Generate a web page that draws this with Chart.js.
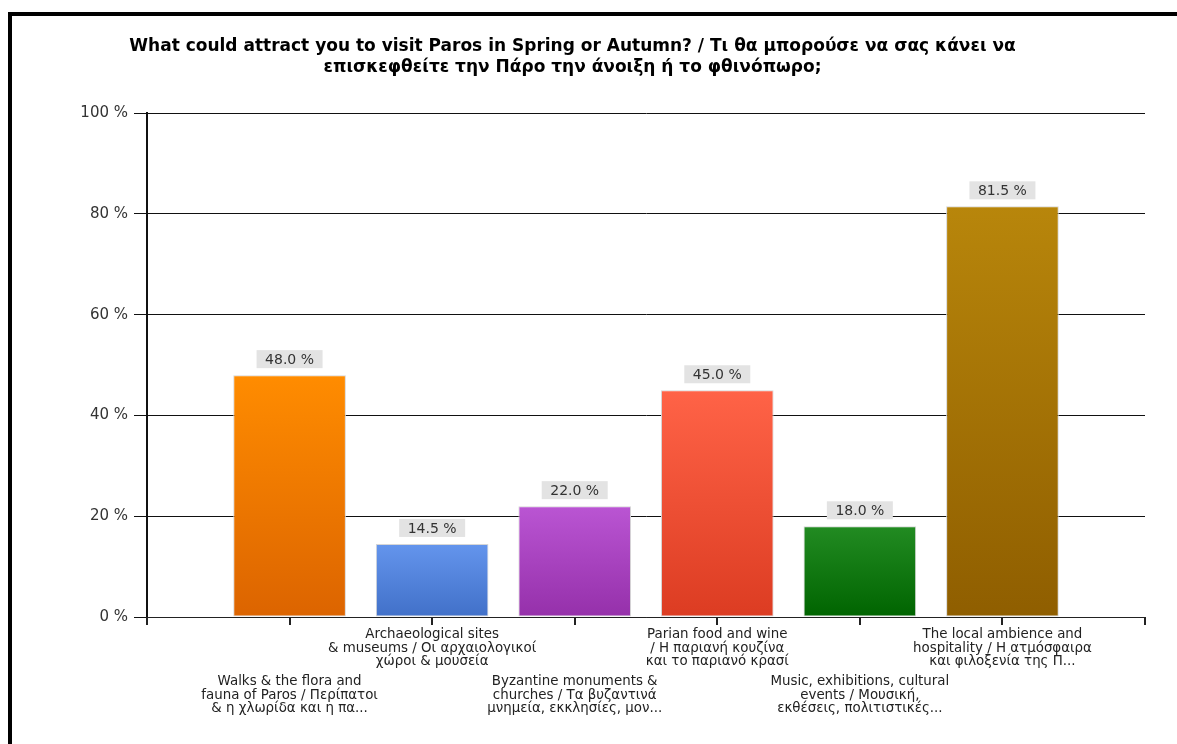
<!DOCTYPE html>
<html>
<head>
<meta charset="utf-8">
<script src="https://cdn.jsdelivr.net/npm/chart.js@4.4.1/dist/chart.umd.min.js"></script>
<style>
    html, body { margin: 0; padding: 0; background: #fff; }
    #wrap { position: relative; width: 1177px; height: 744px; overflow: hidden; }
    #frame {
        position: absolute; left: 8px; top: 12px; right: -10px; bottom: -10px;
        border-left: 4px solid #000; border-top: 4px solid #000;
        pointer-events: none;
    }
</style>
</head>
<body>
<div id="wrap">
    <canvas id="attractChart" width="1177" height="744"></canvas>
    <div id="frame"></div>
</div>
<script>
// Survey answers, one bar per option
const categories = [
    ['Walks & the flora and', 'fauna of Paros / Περίπατοι', '& η χλωρίδα και η πα...'],
    ['Archaeological sites', '& museums / Οι αρχαιολογικοί', 'χώροι & μουσεία'],
    ['Byzantine monuments &', 'churches / Τα βυζαντινά', 'μνημεία, εκκλησίες, μον...'],
    ['Parian food and wine', '/ Η παριανή κουζίνα', 'και το παριανό κρασί'],
    ['Music, exhibitions, cultural', 'events / Μουσική,', 'εκθέσεις, πολιτιστικές...'],
    ['The local ambience and', 'hospitality / Η ατμόσφαιρα', 'και φιλοξενία της Π...']
];
const percentages = [48.0, 14.5, 22.0, 45.0, 18.0, 81.5];
const yTicks = [0, 20, 40, 60, 80, 100];

// top / bottom colour of each bar's gradient
const topColors = ['#ff8c00', '#6495ed', '#ba55d3', '#ff6347', '#228b22', '#b8860b'];
const bottomColors = ['#dc6400', '#4170c8', '#9530aa', '#dc3c22', '#006400', '#8f5e00'];

const titleLines = [
    'What could attract you to visit Paros in Spring or Autumn? / Τι θα μπορούσε να σας κάνει να',
    'επισκεφθείτε την Πάρο την άνοιξη ή το φθινόπωρο;'
];

// empty slot on each side so the axis starts/ends on a tick
const labels = ['', ...categories.map(c => c.join(' ')), ''];
const values = [null, ...percentages, null];

function barGradient(context) {
    const chart = context.chart;
    const i = context.dataIndex - 1;
    if (i < 0 || i >= topColors.length) return 'rgba(0,0,0,0)';
    const area = chart.chartArea;
    if (!area) return topColors[i];
    const yScale = chart.scales.y;
    const top = yScale.getPixelForValue(context.raw);
    const bottom = yScale.getPixelForValue(0);
    const g = chart.ctx.createLinearGradient(0, top, 0, bottom);
    g.addColorStop(0, topColors[i]);
    g.addColorStop(1, bottomColors[i]);
    return g;
}

// grey value boxes above each bar
const valueBoxes = {
    id: 'valueBoxes',
    afterDatasetsDraw(chart) {
        const ctx = chart.ctx;
        const meta = chart.getDatasetMeta(0);
        ctx.save();
        ctx.font = '14px "DejaVu Sans"';
        ctx.textAlign = 'center';
        ctx.textBaseline = 'middle';
        meta.data.forEach((bar, idx) => {
            const v = values[idx];
            if (v === null || v === undefined) return;
            const w = 66, h = 18;
            const bottom = bar.y - 7;
            ctx.fillStyle = '#e3e3e3';
            ctx.fillRect(bar.x - w / 2, bottom - h, w, h);
            ctx.fillStyle = '#333';
            ctx.fillText(v.toFixed(1) + ' %', bar.x, bottom - h / 2 + 1);
        });
        ctx.restore();
    }
};

// x tick marks plus category labels staggered on two rows
const categoryLabels = {
    id: 'categoryLabels',
    afterDraw(chart) {
        const ctx = chart.ctx;
        const xScale = chart.scales.x;
        const base = chart.chartArea.bottom;
        ctx.save();
        ctx.font = '13.4px "DejaVu Sans"';
        ctx.fillStyle = '#222';
        ctx.textAlign = 'center';
        ctx.textBaseline = 'middle';
        categories.forEach((lines, i) => {
            const x = xScale.getPixelForTick(i + 1);
            const y0 = (i % 2 === 0) ? 682 : 635;
            lines.forEach((line, k) => ctx.fillText(line, x, y0 + k * 13.5));
        });

        ctx.strokeStyle = '#222';
        ctx.lineWidth = 2;
        ctx.beginPath();
        labels.forEach((l, i) => {
            const x = Math.round(xScale.getPixelForValue(i));
            ctx.moveTo(x, base);
            ctx.lineTo(x, base + 8);
        });
        ctx.stroke();
        ctx.restore();
    }
};

new Chart(document.getElementById('attractChart'), {
    type: 'bar',
    data: {
        labels: labels,
        datasets: [{
            data: values,
            backgroundColor: barGradient,
            borderColor: '#d6d6d6',
            borderWidth: 1,
            borderSkipped: false,
            categoryPercentage: 1,
            barPercentage: 0.79
        }]
    },
    options: {
        responsive: false,
        animation: false,
        layout: {
            padding: { top: 0, left: 0, right: 32, bottom: 119 }
        },
        plugins: {
            legend: { display: false },
            tooltip: { enabled: false },
            title: {
                display: true,
                text: titleLines,
                color: '#000',
                font: { family: '"DejaVu Sans", sans-serif', size: 17, weight: 'bold', lineHeight: 1.18 },
                padding: { top: 37, bottom: 36 }
            }
        },
        scales: {
            x: {
                type: 'category',
                offset: false,
                grid: { display: false },
                border: { display: true, color: '#222', width: 1 },
                ticks: { display: false, autoSkip: false }
            },
            y: {
                min: 0,
                max: 100,
                afterBuildTicks(scale) {
                    scale.ticks = yTicks.map(v => ({ value: v }));
                },
                afterFit(scale) {
                    scale.width = 147;
                },
                grid: {
                    color: '#111',
                    lineWidth: 1,
                    tickLength: 13
                },
                border: { display: true, color: '#111', width: 2 },
                ticks: {
                    color: '#333',
                    padding: 6,
                    font: { family: '"DejaVu Sans"', size: 15 },
                    callback: v => v + ' %'
                }
            }
        }
    },
    plugins: [valueBoxes, categoryLabels]
});
</script>
</body>
</html>
